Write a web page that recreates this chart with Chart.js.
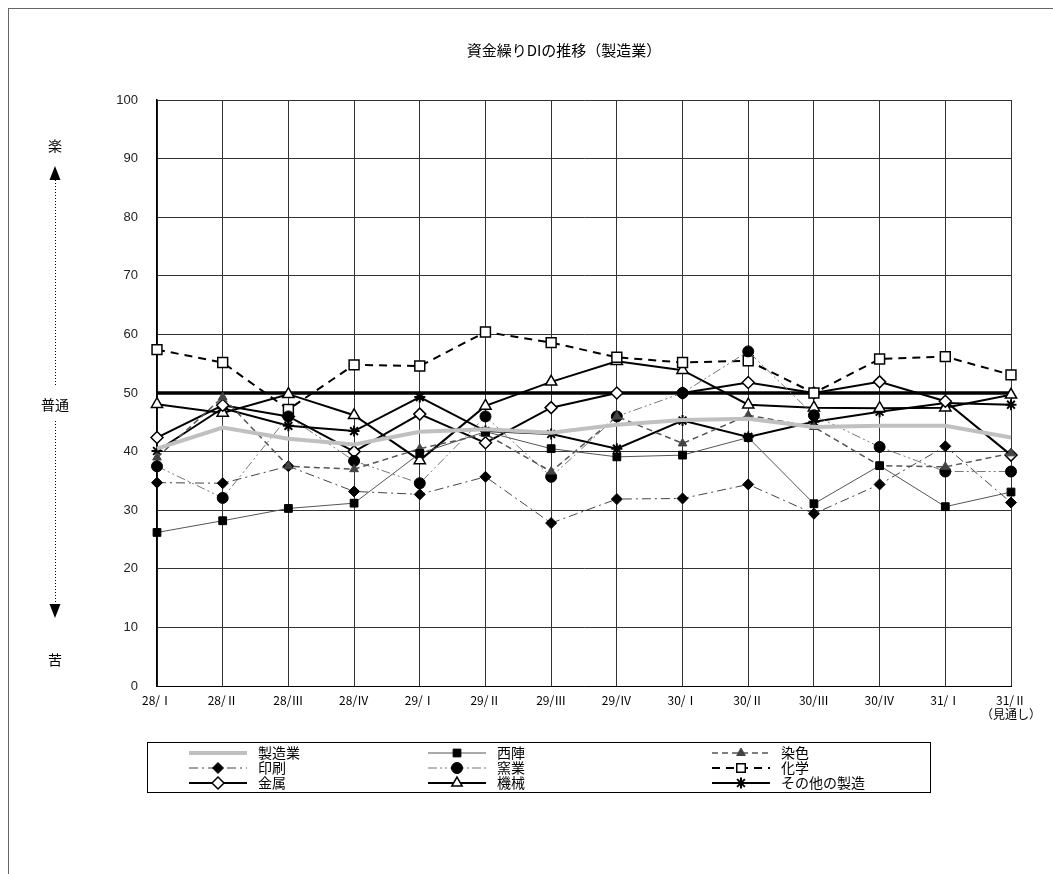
<!DOCTYPE html>
<html>
<head>
<meta charset="utf-8">
<script src="https://cdn.jsdelivr.net/npm/chart.js@4.4.0/dist/chart.umd.min.js"></script>
<style>
  html, body { margin: 0; padding: 0; background: #fff; }
  #wrap { width: 1053px; height: 874px; }
</style>
</head>
<body>
<div id="wrap"><canvas id="chart" width="1053" height="874"></canvas></div>
<script>
//categories (last one is the outlook)
const categories = ["28/Ⅰ", "28/Ⅱ", "28/Ⅲ", "28/Ⅳ", "29/Ⅰ", "29/Ⅱ", "29/Ⅲ", "29/Ⅳ",
  "30/Ⅰ", "30/Ⅱ", "30/Ⅲ", "30/Ⅳ", "31/Ⅰ", ["31/Ⅱ", "（見通し）"]];
//values
const seizo   = [40.5, 44.1, 42.2, 41.2, 43.4, 43.8, 43.2, 44.6, 45.4, 45.6, 44.2, 44.4, 44.4, 42.4];
const nishijin = [26.2, 28.2, 30.3, 31.2, 39.7, 43.4, 40.5, 39.1, 39.4, 42.4, 31.1, 37.6, 30.6, 33.1];
const senshoku = [39.0, 49.3, 37.5, 37.0, 40.5, 43.0, 36.6, 46.0, 41.4, 46.2, 44.2, 37.6, 37.4, 39.7];
const insatsu = [34.7, 34.6, 37.5, 33.2, 32.7, 35.7, 27.8, 31.9, 32.0, 34.4, 29.4, 34.4, 40.9, 31.3];
const yogyo   = [37.5, 32.1, 46.0, 38.4, 34.6, 46.0, 35.7, 46.0, 50.0, 57.1, 46.2, 40.8, 36.6, 36.6];
const kagaku  = [57.4, 55.2, 47.2, 54.8, 54.6, 60.4, 58.6, 56.1, 55.2, 55.5, 50.0, 55.8, 56.2, 53.1];
const kinzoku = [42.4, 47.9, 46.0, 40.0, 46.4, 41.5, 47.5, 50.0, 50.0, 51.8, 50.0, 51.9, 48.6, 39.4];
const kikai   = [48.1, 46.6, 49.8, 46.2, 38.5, 47.8, 51.9, 55.4, 53.9, 48.0, 47.5, 47.4, 47.5, 49.7];
const sonota  = [40.1, 47.4, 44.4, 43.5, 49.3, 43.5, 43.0, 40.5, 45.3, 42.5, 45.1, 46.8, 48.3, 48.0];
//the "normal" line
const futsu   = [50, 50, 50, 50, 50, 50, 50, 50, 50, 50, 50, 50, 50, 50];
const yTicks  = [0, 10, 20, 30, 40, 50, 60, 70, 80, 90, 100];

const jpFont = '"Noto Sans CJK JP", "Noto Sans", sans-serif';
const numFont = '"Liberation Sans", Arial, sans-serif';

const datasets = [
  { label: "製造業", data: seizo, borderColor: "#c0c0c0", borderWidth: 4, pointRadius: 0 },
  { label: "西陣", data: nishijin, borderColor: "#555", borderWidth: 1, pointStyle: "rect",
    pointRadius: 5.5, pointBackgroundColor: "#000", pointBorderColor: "#000", pointBorderWidth: 1 },
  { label: "染色", data: senshoku, borderColor: "#555", borderWidth: 1.5, borderDash: [6, 4],
    pointStyle: "triangle", pointRadius: 5, pointBackgroundColor: "#444", pointBorderColor: "#444", pointBorderWidth: 1 },
  { label: "印刷", data: insatsu, borderColor: "#444", borderWidth: 1, borderDash: [9, 4, 2, 4],
    pointStyle: "rectRot", pointRadius: 5.5, pointBackgroundColor: "#000", pointBorderColor: "#000", pointBorderWidth: 1 },
  { label: "窯業", data: yogyo, borderColor: "#777", borderWidth: 1, borderDash: [9, 3, 2, 3, 2, 3],
    pointStyle: "circle", pointRadius: 5.5, pointBackgroundColor: "#000", pointBorderColor: "#000", pointBorderWidth: 1 },
  { label: "化学", data: kagaku, borderColor: "#000", borderWidth: 2, borderDash: [8, 6],
    pointStyle: "rect", pointRadius: 7, pointBackgroundColor: "#fff", pointBorderColor: "#000", pointBorderWidth: 1.5 },
  { label: "金属", data: kinzoku, borderColor: "#000", borderWidth: 2,
    pointStyle: "rectRot", pointRadius: 6, pointBackgroundColor: "#fff", pointBorderColor: "#000", pointBorderWidth: 1.5 },
  { label: "機械", data: kikai, borderColor: "#000", borderWidth: 2,
    pointStyle: "triangle", pointRadius: 6.5, pointBackgroundColor: "#fff", pointBorderColor: "#000", pointBorderWidth: 1.5 },
  { label: "その他の製造", data: sonota, borderColor: "#000", borderWidth: 2,
    pointStyle: "star", pointRadius: 5.5, pointBackgroundColor: "#000", pointBorderColor: "#000", pointBorderWidth: 2 },
  { label: "普通", data: futsu, borderColor: "#000", borderWidth: 3.5, pointRadius: 0, inLegend: false },
];
datasets.forEach(d => { d.tension = 0; d.fill = false; d.pointHoverRadius = d.pointRadius; });

//legend column text positions
const legendTextX = [258, 497, 781];

//draws title, side arrows, outer frame and the legend box
const decor = {
  id: "decor",
  afterDraw(chart) {
    const ctx = chart.ctx;
    ctx.save();
    //outer frame
    ctx.strokeStyle = "#666";
    ctx.lineWidth = 1;
    ctx.strokeRect(8.5, 8.5, 1100, 1000);
    //title
    ctx.fillStyle = "#000";
    ctx.font = "15px " + jpFont;
    ctx.textAlign = "center";
    ctx.textBaseline = "middle";
    ctx.fillText("資金繰りDIの推移（製造業）", 564, 50);
    //left side: easy / normal / hard
    ctx.font = "14px " + jpFont;
    ctx.fillText("楽", 55, 146);
    ctx.fillText("普通", 55, 405);
    ctx.fillText("苦", 55, 660);
    ctx.beginPath();
    ctx.moveTo(55, 166); ctx.lineTo(49.5, 180); ctx.lineTo(60.5, 180); ctx.closePath();
    ctx.fill();
    ctx.beginPath();
    ctx.moveTo(55, 618); ctx.lineTo(49.5, 604); ctx.lineTo(60.5, 604); ctx.closePath();
    ctx.fill();
    ctx.strokeStyle = "#000";
    ctx.setLineDash([1, 2]);
    ctx.beginPath();
    ctx.moveTo(55.5, 180); ctx.lineTo(55.5, 386);
    ctx.moveTo(55.5, 421); ctx.lineTo(55.5, 604);
    ctx.stroke();
    ctx.setLineDash([]);

    //legend box
    const bx = 147, by = 742, bw = 783, bh = 50;
    ctx.strokeStyle = "#000";
    ctx.lineWidth = 1;
    ctx.strokeRect(bx + 0.5, by + 0.5, bw, bh);
    const items = chart.data.datasets.filter(d => d.inLegend !== false);
    ctx.font = "14px " + jpFont;
    ctx.textAlign = "left";
    items.forEach((d, i) => {
      const col = i % 3, row = Math.floor(i / 3);
      const x1 = legendTextX[col] - 11, x0 = x1 - 58;
      const y = by + 11 + row * 15;
      ctx.strokeStyle = d.borderColor;
      ctx.lineWidth = d.borderWidth;
      ctx.setLineDash(d.borderDash || []);
      ctx.beginPath();
      ctx.moveTo(x0, y); ctx.lineTo(x1, y);
      ctx.stroke();
      ctx.setLineDash([]);
      if (d.pointRadius > 0) {
        ctx.fillStyle = d.pointBackgroundColor;
        ctx.strokeStyle = d.pointBorderColor;
        ctx.lineWidth = d.pointBorderWidth;
        Chart.helpers.drawPoint(ctx, {
          pointStyle: d.pointStyle, radius: Math.min(d.pointRadius, 6), rotation: 0,
          borderWidth: d.pointBorderWidth
        }, (x0 + x1) / 2, y);
      }
      ctx.fillStyle = "#000";
      ctx.textBaseline = "middle";
      ctx.fillText(d.label, legendTextX[col], y);
    });
    ctx.restore();
  }
};

new Chart(document.getElementById("chart"), {
  type: "line",
  data: { labels: categories, datasets: datasets },
  plugins: [decor],
  options: {
    responsive: false,
    animation: false,
    layout: { padding: { top: 100, right: 42, bottom: 148, left: 0 } },
    plugins: { legend: { display: false }, tooltip: { enabled: false }, title: { display: false } },
    scales: {
      x: {
        type: "category",
        offset: false,
        afterFit(scale) { scale.height = 40; },
        grid: { color: "#333", lineWidth: 1, drawTicks: false },
        border: { color: "#000", width: 1 },
        ticks: { autoSkip: false, maxRotation: 0, padding: 7, color: "#000",
          font: { family: jpFont, size: 12 } }
      },
      y: {
        min: 0, max: 100,
        afterFit(scale) { scale.width = 157; },
        afterBuildTicks(scale) { scale.ticks = yTicks.map(v => ({ value: v })); },
        grid: { color: "#333", lineWidth: 1, drawTicks: false },
        border: { color: "#000", width: 1.5 },
        ticks: { padding: 19, color: "#222", font: { family: numFont, size: 13 } }
      }
    }
  }
});
</script>
</body>
</html>
